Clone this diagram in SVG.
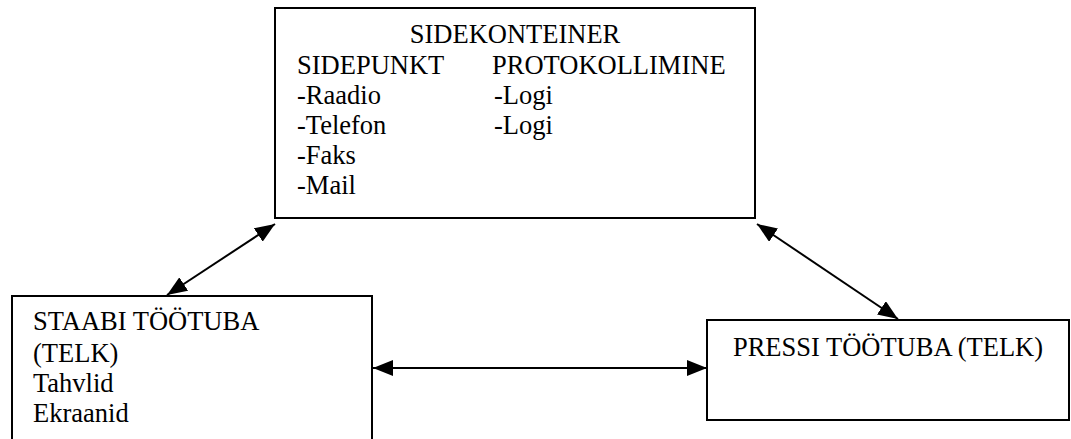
<svg xmlns="http://www.w3.org/2000/svg" width="1071" height="439" viewBox="0 0 1071 439">
<style>
.box{fill:#fff;stroke:#000;stroke-width:2}
.t{font-size:26.5px;fill:#000}
.c{stroke:#000;stroke-width:2;fill:none}
</style>
<defs>
<marker id="ah" viewBox="0 0 20 16" refX="20" refY="8" markerWidth="20" markerHeight="16" markerUnits="userSpaceOnUse" orient="auto-start-reverse">
<path d="M0,0 L20,8 L0,16 Z" fill="#000"/>
</marker>
</defs>
<rect width="1071" height="439" fill="#fff"/>
<g id="connectors">
<line class="c" x1="167" y1="295" x2="275" y2="224" marker-start="url(#ah)" marker-end="url(#ah)"/>
<line class="c" x1="757" y1="224" x2="898" y2="319" marker-start="url(#ah)" marker-end="url(#ah)"/>
<line class="c" x1="373" y1="368" x2="707" y2="368" marker-start="url(#ah)" marker-end="url(#ah)"/>
</g>
<g font-family="'Liberation Serif', 'Times New Roman', 'DejaVu Serif', serif">
<g id="sidekonteiner">
<rect class="box" x="275" y="8" width="480" height="210"/>
<text class="t" x="515" y="43" text-anchor="middle">SIDEKONTEINER</text>
<text class="t" x="297" y="74">SIDEPUNKT</text>
<text class="t" x="492" y="74">PROTOKOLLIMINE</text>
<text class="t" x="297" y="104">-Raadio</text>
<text class="t" x="494" y="104">-Logi</text>
<text class="t" x="297" y="134">-Telefon</text>
<text class="t" x="494" y="134">-Logi</text>
<text class="t" x="297" y="164">-Faks</text>
<text class="t" x="297" y="194">-Mail</text>
</g>
<g id="staabi">
<rect class="box" x="12" y="296" width="360" height="160"/>
<text class="t" x="33" y="330">STAABI TÖÖTUBA</text>
<text class="t" x="33" y="362">(TELK)</text>
<text class="t" x="33" y="392">Tahvlid</text>
<text class="t" x="33" y="422">Ekraanid</text>
</g>
<g id="pressi">
<rect class="box" x="707" y="320" width="362" height="100"/>
<text class="t" x="888" y="356" text-anchor="middle">PRESSI TÖÖTUBA (TELK)</text>
</g>
</g>
</svg>
